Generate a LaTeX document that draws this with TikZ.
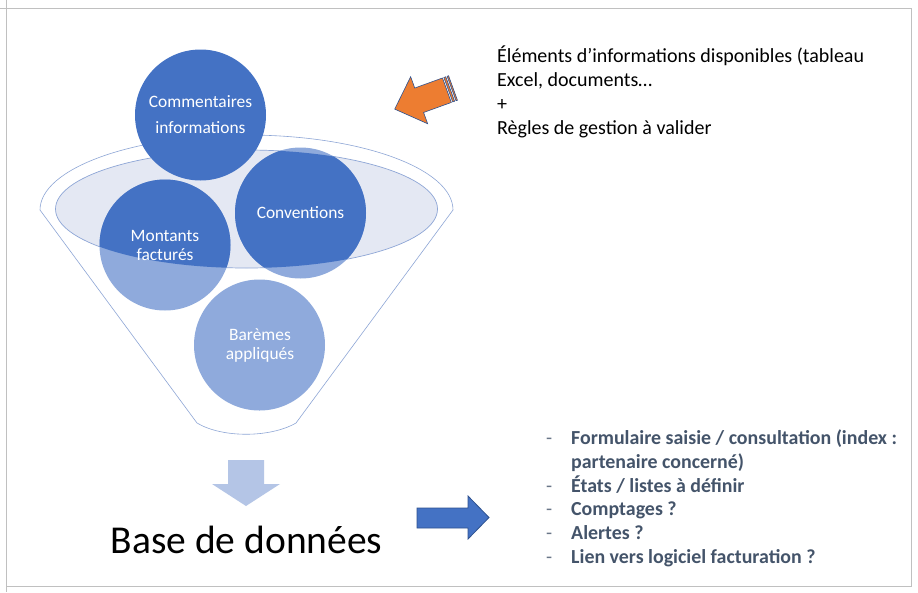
\documentclass[tikz,border=0pt]{standalone}
\usepackage{fontspec}
\setmainfont{Carlito}
\definecolor{accent}{HTML}{4472C4}
\definecolor{lightc}{HTML}{8FAADC}
\definecolor{rimfill}{HTML}{E4E8F3}
\definecolor{rimline}{HTML}{8EA6D6}
\definecolor{downarr}{HTML}{B4C5E6}
\definecolor{listc}{HTML}{44546A}
\definecolor{orangearr}{HTML}{ED7D31}
\definecolor{arrline}{HTML}{2F528F}
\definecolor{framec}{HTML}{C0C0C0}
\tikzset{
  ball/.style={circle, minimum size=131pt, inner sep=0pt, draw=none},
  ctext/.style={text=white, font=\fontsize{17.4}{19}\selectfont, align=center, inner sep=0pt},
  rtext/.style={text=black, font=\fontsize{20}{24}\selectfont, anchor=base west, inner sep=0pt},
  ltext/.style={text=listc, font=\fontsize{19.9}{24}\selectfont\bfseries, anchor=base west, inner sep=0pt},
  ldash/.style={text=listc!80, font=\fontsize{19.9}{24}\selectfont, anchor=base west, inner sep=0pt},
}
\begin{document}
\begin{tikzpicture}[x=1pt,y=-1pt]
\useasboundingbox (0,0) rectangle (918,592);
\fill[white] (0,0) rectangle (918,592);
% frame
\draw[framec, line width=1pt] (0,8) -- (911,8) -- (911,586) -- (6.5,586);
\draw[framec, line width=1pt] (6.5,0) -- (6.5,592);

% funnel
\draw[rimline, line width=0.6pt, fill=white] (40,210) arc[start angle=180, end angle=360, x radius=206.5, y radius=75]
  -- (296,423) .. controls (270,438) and (222,438) .. (197,423) -- cycle;
\draw[rimline, line width=0.7pt, fill=rimfill] (246.5,209) ellipse [x radius=191, y radius=59];

% lower circles (light)
\node[ball, fill=lightc] (mon) at (165,245) {};
\node[ball, fill=lightc] (conv) at (300.5,213) {};
\node[ball, fill=lightc] (bar) at (259.5,345) {};
% dark parts inside the rim
\begin{scope}
  \clip (246.5,209) ellipse [x radius=191, y radius=59];
  \fill[accent] (mon.center) circle (65.5);
  \fill[accent] (conv.center) circle (65.5);
  \fill[accent] (bar.center) circle (65.5);
\end{scope}
% top circle
\node[ball, fill=accent] (com) at (200.5,115) {};

% circle texts
\node[ctext, font=\fontsize{17.4}{26}\selectfont] (comt) at (200.5,114.5) {Commentaires\\informations};
\node[ctext, anchor=base] (convt) at (300.5,218) {Conventions};
\node[ctext] (mont) at (165,245) {Montants\\facturés};
\node[ctext] (bart) at (260,345.5) {Barèmes\\appliqués};

% orange striped arrow
\begin{scope}[shift={(453,88)}, rotate=199.9]
  \draw[arrline, line width=0.6pt, fill=orangearr] (0,-13) rectangle (1.5,13);
  \draw[arrline, line width=0.6pt, fill=orangearr] (3,-13) rectangle (5,13);
  \draw[arrline, line width=0.6pt, fill=orangearr] (6.5,-13) -- (36,-13) -- (36,-25) -- (62,0) -- (36,25) -- (36,13) -- (6.5,13) -- cycle;
\end{scope}

% right upper text
\node[rtext] (r1) at (497,62) {Éléments d’informations disponibles (tableau};
\node[rtext] (r2) at (497,86) {Excel, documents…};
\node[rtext] (r3) at (497,110) {+};
\node[rtext] (r4) at (497,134) {Règles de gestion à valider};

% down arrow
\fill[downarr] (228,460) -- (264,460) -- (264,484) -- (280,484) -- (246,506) -- (212,484) -- (228,484) -- cycle;

% database title
\node[inner sep=0pt, anchor=base, font=\fontsize{39.5}{42}\selectfont] (db) at (246.5,553) {Base de données};

% blue right arrow
\draw[arrline, line width=0.8pt, fill=accent] (417,508) -- (468,508) -- (468,496) -- (489,517.5) -- (468,539) -- (468,528) -- (417,528) -- cycle;

% list
\node[ldash] (d1) at (546,444) {-};
\node[ltext] (l1) at (571,444) {Formulaire saisie / consultation (index :};
\node[ltext] (l2) at (571,468) {partenaire concerné)};
\node[ldash] (d3) at (546,492) {-};
\node[ltext] (l3) at (571,492) {États / listes à définir};
\node[ldash] (d4) at (546,515.5) {-};
\node[ltext] (l4) at (571,515.5) {Comptages ?};
\node[ldash] (d5) at (546,539) {-};
\node[ltext] (l5) at (571,539) {Alertes ?};
\node[ldash] (d6) at (546,563) {-};
\node[ltext] (l6) at (571,563) {Lien vers logiciel facturation ?};
\end{tikzpicture}
\end{document}
